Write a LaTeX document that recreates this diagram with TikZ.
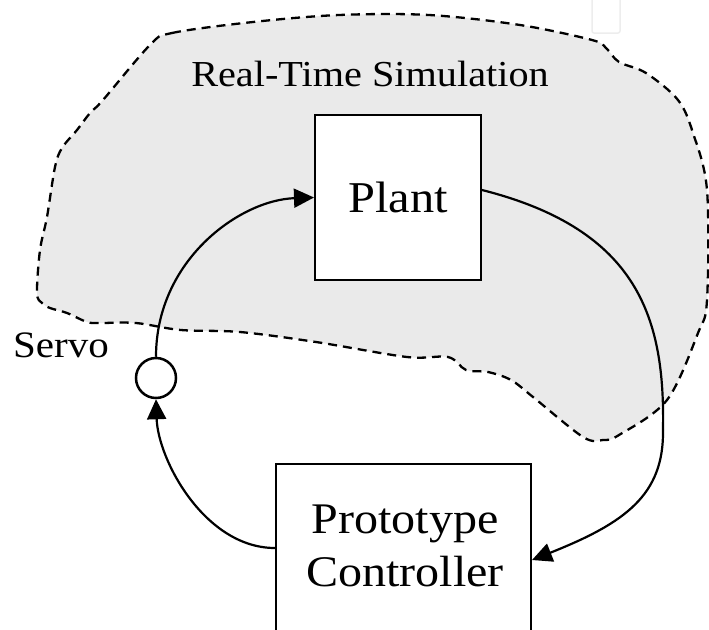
\documentclass[tikz,border=0pt]{standalone}
\usepackage{fontspec}
\setmainfont{Liberation Serif}[FakeStretch=1.1]
\usetikzlibrary{arrows.meta}
\definecolor{blobgray}{HTML}{EAEAEA}
\tikzset{
  blockbox/.style={draw=black, line width=2pt, fill=white, inner sep=0pt},
  conn/.style={line width=2.2pt, -{Triangle[length=20pt,width=19pt]}},
  blobline/.style={draw=black, fill=blobgray, line width=2.3pt, dash pattern=on 9pt off 6pt},
}
\begin{document}
\begin{tikzpicture}[x=1pt,y=-1pt]
\useasboundingbox (0,0) rectangle (709,629);
\clip (0,0) rectangle (709,629);
% faint mark
\draw[black!7, line width=1.5pt, rounded corners=2pt] (592,-5) rectangle (620,33);
% simulation region
\draw[blobline] plot[smooth cycle, tension=0.55] coordinates {
(150,45) (172,33) (253,22) (339,15) (429,15) (520,25) (592,40) (606,48) (619,62) (646,73) (678,100) (693,133) (707,190) (707,300) (698,333) (667,400) (619,435) (603,440) (583,437) (533,397) (511,380) (488,372) (466,370) (448,357) (407,357) (316,342) (240,332) (181,330) (136,323) (100,323) (87,322) (67,313) (50,308) (42,303) (37,293) (40,250) (47,217) (55,167) (62,148) (77,130) (90,113) (103,100)};
\node[font=\fontsize{36.6}{40}\selectfont] (simlabel) at (370,74) {Real-Time Simulation};
\node[blockbox, minimum width=166pt, minimum height=165pt, font=\fontsize{44}{48}\selectfont] (plant) at (398,197.5) {Plant};
\node[blockbox, minimum width=255pt, minimum height=168pt] (ctrl) at (403.5,548) {};
\node[align=center, font=\fontsize{43.7}{53}\selectfont] (ctrltext) at (405,546) {Prototype\\ Controller};
\node[draw=black, line width=2.5pt, circle, minimum size=40pt, inner sep=0pt, fill=white] (servo) at (156,378) {};
\node[font=\fontsize{37.3}{40}\selectfont] (servolabel) at (61,345) {Servo};
% connectors
\draw[conn] (ctrl.west) .. controls (205,548) and (158,460) .. (servo.south);
\draw[conn] (servo.north) .. controls (156,260) and (240,200) .. (plant.west);
\coordinate (mid) at (663,430);
\draw[line width=2.2pt] ([yshift=7.5pt]plant.east) .. controls (640,230) and (665,320) .. (mid);
\draw[conn] (mid) .. controls (664,495) and (625,523) .. ([yshift=-12pt]ctrl.east);
\end{tikzpicture}
\end{document}
